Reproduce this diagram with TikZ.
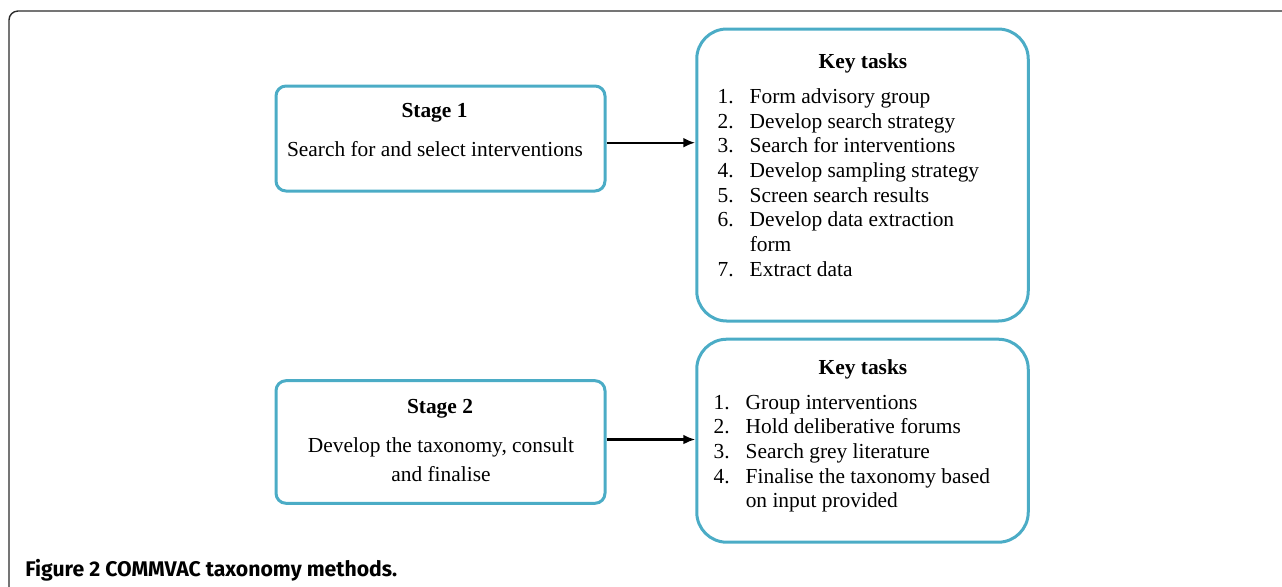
\documentclass[tikz,border=0pt]{standalone}
\usepackage{fontspec}
\setmainfont{Liberation Serif}
\newfontfamily\capfont{Fira Sans}
\usetikzlibrary{arrows.meta}
\definecolor{boxblue}{HTML}{4BACC6}
\definecolor{framegray}{HTML}{2B2B2B}

\begin{document}
\begin{tikzpicture}[x=0.5pt,y=-0.5pt,
  stagebox/.style={draw=boxblue, line width=1.5pt, rounded corners=5pt, minimum width=164.5pt},
  taskbox/.style={draw=boxblue, line width=1.5pt, rounded corners=15pt, minimum width=165.75pt},
  txt/.style={inner sep=0pt, font=\fontsize{10.7}{12.35}\selectfont},
  head/.style={inner sep=0pt, font=\fontsize{10.7}{12.35}\selectfont\bfseries},
  flow/.style={-{Latex[length=6pt,width=5pt]}, line width=1.2pt}]

\useasboundingbox (0,0) rectangle (1282,586);

\draw[framegray, line width=0.7pt, rounded corners=4.5pt] (1300,11) -- (9,11) -- (9,600);

\node(stage1)[stagebox, minimum height=52.5pt] at (440.5,138.5) {};
\node(stage2)[stagebox, minimum height=61.3pt] at (440.5,442) {};
\node(tasks1)[taskbox, minimum height=146pt] at (862.5,175) {};
\node(tasks2)[taskbox, minimum height=101.5pt] at (862.5,440.7) {};

\node(stage1head)[head, anchor=base] at (434.5,117.7) {Stage 1};
\node(stage1text)[txt, anchor=base] at (435,156) {Search for and select interventions};

\node(stage2head)[head, anchor=base] at (440,413.3) {Stage 2};
\node(stage2text)[txt, anchor=base, align=center, font=\fontsize{10.7}{14.35}\selectfont] at (441,481) {Develop the taxonomy, consult\\and finalise};

\node(tasks1head)[head, anchor=base] at (863,68.3) {Key tasks};
\node(tasks1list)[txt, anchor=base west] at (717.3,103.3) {\begin{tabular}[t]{@{}l@{\hspace{8pt}}l@{}}
1. & Form advisory group\\
2. & Develop search strategy\\
3. & Search for interventions\\
4. & Develop sampling strategy\\
5. & Screen search results\\
6. & Develop data extraction\\
   & form\\
7. & Extract data
\end{tabular}};

\node(tasks2head)[head, anchor=base] at (863,374) {Key tasks};
\node(tasks2list)[txt, anchor=base west] at (713.3,409) {\begin{tabular}[t]{@{}l@{\hspace{8pt}}l@{}}
1. & Group interventions\\
2. & Hold deliberative forums\\
3. & Search grey literature\\
4. & Finalise the taxonomy based\\
   & on input provided
\end{tabular}};

\coordinate(arrow1) at ([yshift=-2.1pt]stage1.east);
\coordinate(arrow2) at ([yshift=1.25pt]stage2.east);
\draw[flow] (arrow1) -- (arrow1 -| tasks1.west);
\draw[flow] (arrow2) -- (arrow2 -| tasks2.west);

\node(caption)[anchor=base west, inner sep=0pt, font=\capfont\fontsize{10.6}{12}\selectfont\bfseries] at (25,576.7) {Figure 2 COMMVAC taxonomy methods.};

\end{tikzpicture}
\end{document}
